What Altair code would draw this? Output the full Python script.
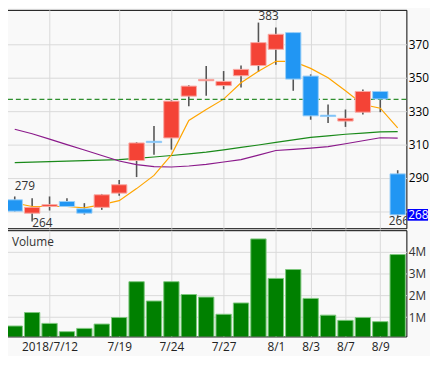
import altair as alt
import pandas as pd

dates = ["7/10", "7/11", "7/12", "7/13", "7/17", "7/18", "7/19", "7/20", "7/23", "7/24",
         "7/25", "7/26", "7/27", "7/30", "7/31", "8/1", "8/2", "8/3", "8/6", "8/7",
         "8/8", "8/9", "8/10"]
opens = [277.0, 269.0, 273.0, 276.0, 271.6, 272.5, 281.0, 300.5, 312.0, 314.0,
         339.0, 348.2, 345.3, 351.2, 357.3, 367.0, 377.0, 351.0, 327.6, 324.1,
         329.4, 341.8, 292.5]
closes = [270.2, 272.5, 274.1, 273.0, 269.0, 280.0, 286.0, 311.0, 311.2, 336.0,
          345.0, 349.0, 347.8, 355.0, 371.0, 376.0, 349.2, 327.2, 326.8, 325.7,
          341.8, 337.3, 268.0]
highs = [279.0, 278.0, 279.0, 278.0, 275.0, 280.5, 288.8, 311.5, 321.2, 336.5,
         345.5, 357.0, 354.0, 357.3, 383.0, 380.0, 377.0, 352.0, 334.0, 331.0,
         343.0, 342.0, 294.7]
lows = [270.0, 264.0, 270.6, 272.7, 268.2, 271.0, 279.4, 290.6, 304.0, 307.0,
        333.0, 339.2, 343.1, 344.1, 353.5, 357.8, 342.2, 324.9, 322.9, 320.6,
        328.0, 329.4, 266.0]
ma_orange = [275.1, 273.0, 273.0, 273.0, 272.2, 274.1, 276.5, 283.7, 291.6, 303.9,
             324.5, 331.0, 337.2, 347.0, 353.9, 359.8, 359.8, 355.6, 350.0, 342.2,
             334.0, 331.8, 320.0]
ma_green = [299.2, 299.5, 299.8, 300.1, 300.4, 300.7, 301.0, 301.8, 302.6, 303.5,
            304.5, 305.5, 306.9, 308.4, 309.8, 311.3, 312.8, 314.3, 315.2, 316.2,
            316.9, 317.6, 317.8]
ma_purple = [319.2, 316.5, 313.3, 310.0, 306.8, 303.5, 300.2, 298.0, 296.8, 296.6,
             297.2, 298.2, 299.6, 301.0, 303.7, 306.5, 307.2, 307.9, 308.8, 310.5,
             312.3, 314.1, 313.9]
volumes = [0.59, 1.21, 0.71, 0.33, 0.48, 0.68, 0.98, 2.63, 1.74, 2.63,
           2.04, 1.92, 1.13, 1.65, 4.60, 2.78, 3.19, 1.86, 1.09, 0.85,
           0.98, 0.79, 3.88]  # millions
ref_level = 337
tick_dates = ["7/12", "7/19", "7/24", "7/27", "8/1", "8/3", "8/7", "8/9"]
tick_texts = ["2018/7/12", "7/19", "7/24", "7/27", "8/1", "8/3", "8/7", "8/9"]
ann_dates = ["7/10", "7/11", "7/31", "8/10"]
ann_values = [279, 264, 383, 266]

n = len(dates)
df = pd.DataFrame({
    "i": list(range(n)), "date": dates, "o": opens, "c": closes, "h": highs, "l": lows,
    "m5": ma_orange, "mg": ma_green, "mp": ma_purple,
    "vol": [v * 1e6 for v in volumes],
})
df["dir"] = ["up" if c >= o else "down" for o, c in zip(opens, closes)]

tick_pos = [dates.index(d) for d in tick_dates]
full_labels = [""] * n
for p, t in zip(tick_pos, tick_texts):
    full_labels[p] = t
label_expr = "[" + ",".join("'" + s + "'" for s in full_labels) + "][datum.value]"

FONT = "Open Sans"
W, H1, H2 = 407, 222, 108
GRID = "#d9d9d9"

xs = alt.Scale(domain=[-0.5, n - 0.5], nice=False, zero=False)
ys = alt.Scale(domain=[260, 390.6], nice=False, zero=False)
vs = alt.Scale(domain=[0.11e6, 5.0e6], nice=False, zero=False)

base = alt.Chart(df).transform_calculate(x1="datum.i - 0.44", x2="datum.i + 0.44")

x_top_axis = alt.Axis(values=tick_pos, labels=False, ticks=False, domain=False,
                      grid=True, gridColor=GRID, title=None)
y_top_axis = alt.Axis(orient="right", values=[270, 290, 310, 330, 350, 370],
                      labelExpr="datum.value == 270 ? '' : datum.label",
                      ticks=False, domain=False, grid=True, gridColor=GRID,
                      labelFont=FONT, labelFontSize=12, labelColor="#000",
                      labelPadding=2, title=None)

wicks = base.mark_rule(color="#555", strokeWidth=1.6).encode(
    x=alt.X("i:Q", scale=xs, axis=x_top_axis),
    y=alt.Y("l:Q", scale=ys, axis=y_top_axis),
    y2="h:Q",
)
bodies = base.mark_bar(strokeWidth=1).encode(
    x=alt.X("x1:Q", scale=xs),
    x2="x2:Q",
    y=alt.Y("o:Q", scale=ys),
    y2="c:Q",
    color=alt.Color("dir:N", scale=alt.Scale(domain=["up", "down"], range=["#F44336", "#2196F3"]), legend=None),
    stroke=alt.Stroke("dir:N", scale=alt.Scale(domain=["up", "down"], range=["#F9A9A3", "#9ACFF8"]), legend=None),
)
line_g = base.mark_line(color="#1a8a1a", strokeWidth=1.2).encode(x=alt.X("i:Q", scale=xs), y=alt.Y("mg:Q", scale=ys))
line_p = base.mark_line(color="#8B1A8B", strokeWidth=1.2).encode(x=alt.X("i:Q", scale=xs), y=alt.Y("mp:Q", scale=ys))
line_o = base.mark_line(color="#FFA500", strokeWidth=1.2).encode(x=alt.X("i:Q", scale=xs), y=alt.Y("m5:Q", scale=ys))
ref = alt.Chart(pd.DataFrame({"r": [ref_level]})).mark_rule(
    color="#2f8f2f", strokeDash=[5, 3], strokeWidth=1.3
).encode(y=alt.Y("r:Q", scale=ys))

ann_layers = []
ann_dy = [-11, 2, -7, 3]
ann_dx = [0, 0, 0, -9]
for d, v, dy, dx in zip(ann_dates, ann_values, ann_dy, ann_dx):
    ann_layers.append(
        alt.Chart(pd.DataFrame({"i": [dates.index(d)], "v": [v], "t": [str(v)]}))
        .mark_text(align="left", baseline="middle", dy=dy, dx=dx, font=FONT, fontSize=12,
                   color="#333", clip=True)
        .encode(x=alt.X("i:Q", scale=xs), y=alt.Y("v:Q", scale=ys), text="t:N")
    )

last = df.tail(1)
box = alt.Chart(last).transform_calculate(b1="datum.c - 3.5", b2="datum.c + 3.5").mark_rect(
    color="#0000FF").encode(
    x=alt.value(W + 1), x2=alt.value(W + 22),
    y=alt.Y("b1:Q", scale=ys), y2="b2:Q",
)
box_text = alt.Chart(last).mark_text(align="left", baseline="middle", font=FONT, fontSize=12,
                                     color="white").encode(
    x=alt.value(W + 2), y=alt.Y("c:Q", scale=ys), text=alt.Text("c:Q", format="d"),
)

top = alt.layer(wicks, line_g, line_p, line_o, ref, bodies, *ann_layers, box, box_text).properties(
    width=W, height=H1)

x_bot_axis = alt.Axis(values=tick_pos, labelExpr=label_expr, ticks=False, domain=False,
                      grid=True, gridColor=GRID, title=None, labelFont=FONT,
                      labelFontSize=12, labelColor="#222", labelPadding=5)
y_bot_axis = alt.Axis(orient="right", values=[1e6, 2e6, 3e6, 4e6],
                      labelExpr="datum.value / 1000000 + 'M'", ticks=False, domain=False,
                      grid=True, gridColor=GRID, labelFont=FONT, labelFontSize=12,
                      labelColor="#333", labelPadding=2, title=None)
vol_bars = base.mark_bar(color="#008000", stroke="#7cc77c", strokeWidth=1, clip=True).encode(
    x=alt.X("x1:Q", scale=xs, axis=x_bot_axis),
    x2="x2:Q",
    y=alt.Y("vol:Q", scale=vs, axis=y_bot_axis),
    y2=alt.datum(0),
)
vol_label = alt.Chart(pd.DataFrame({"t": ["Volume"]})).mark_text(
    align="left", baseline="middle", font=FONT, fontSize=12, color="#333"
).encode(x=alt.value(6), y=alt.value(12), text="t:N")

bottom = alt.layer(vol_bars, vol_label).properties(width=W, height=H2)

chart = alt.vconcat(top, bottom, spacing=0).properties(
    padding={"left": -4, "top": -2, "right": 0, "bottom": 0},
    background="#f9f9f9",
).configure_view(stroke="#000", strokeWidth=1).configure_concat(spacing=0)

chart.save("out.html", embed_options={"renderer": "svg", "actions": False})
